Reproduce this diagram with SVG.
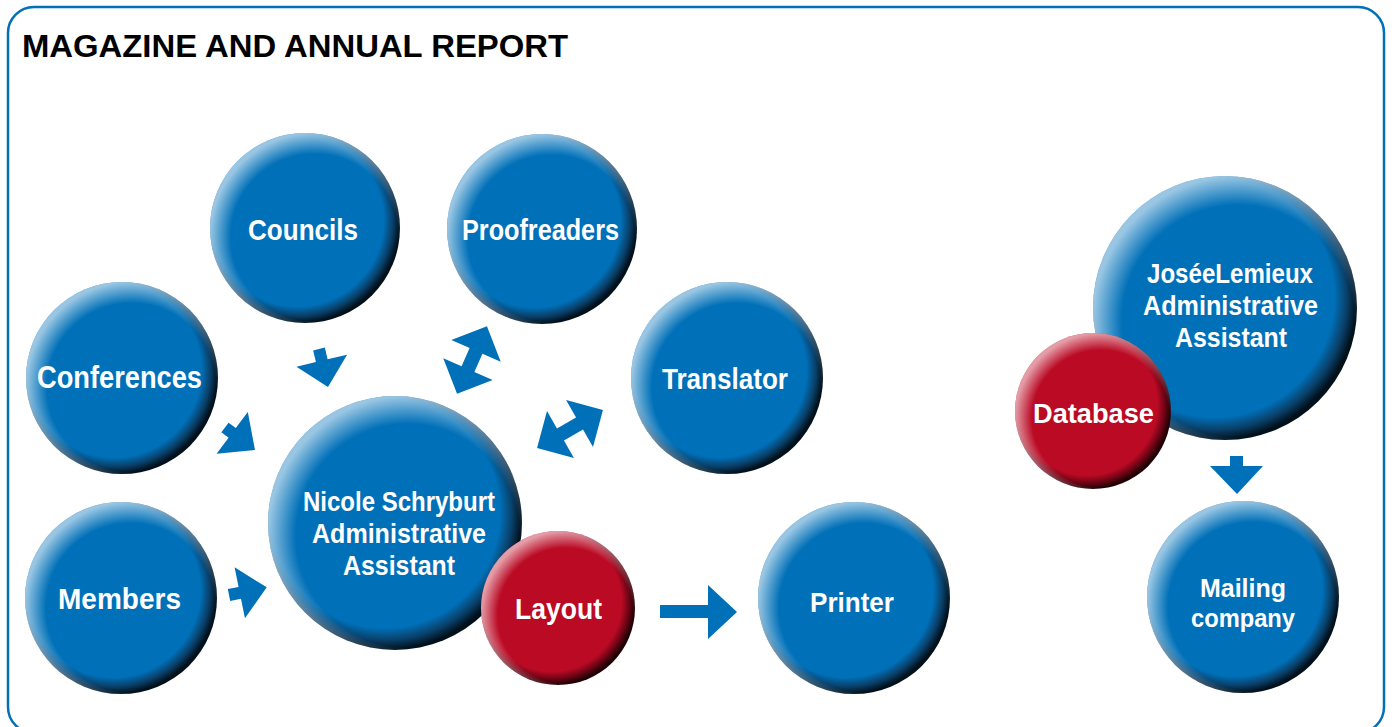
<svg xmlns="http://www.w3.org/2000/svg" width="1394" height="727" viewBox="0 0 1394 727">
<defs>
<radialGradient id="shadeB" cx="0.46" cy="0.46" r="0.54">
<stop offset="0" stop-color="#0070b8"/>
<stop offset="0.84" stop-color="#0070b8"/>
<stop offset="0.93" stop-color="#0a3f68"/>
<stop offset="1" stop-color="#00111c"/>
</radialGradient>
<radialGradient id="shadeR" cx="0.46" cy="0.46" r="0.54">
<stop offset="0" stop-color="#ba0a24"/>
<stop offset="0.84" stop-color="#ba0a24"/>
<stop offset="0.93" stop-color="#6a0414"/>
<stop offset="1" stop-color="#200004"/>
</radialGradient>
<radialGradient id="hl" cx="0.55" cy="0.55" r="0.55">
<stop offset="0.8" stop-color="#ffffff" stop-opacity="0"/>
<stop offset="1" stop-color="#ffffff" stop-opacity="0.6"/>
</radialGradient>
<style>
.blue{fill:url(#shadeB)}
.red{fill:url(#shadeR)}
.hl{fill:url(#hl)}
.arrow{fill:#0070b8}
.lbl{font-family:"Liberation Sans",Arial,sans-serif;font-weight:bold;fill:#ffffff;text-anchor:middle}
.title{font-family:"Liberation Sans",Arial,sans-serif;font-weight:bold;font-size:31px;fill:#000000}
</style>
</defs>
<rect x="8" y="7" width="1376" height="726" rx="26" ry="26" fill="#ffffff" stroke="#0070b8" stroke-width="2.5"/>
<text class="title" x="22" y="57" textLength="546" lengthAdjust="spacingAndGlyphs">MAGAZINE AND ANNUAL REPORT</text>

<g id="connectors">
<polygon class="arrow" transform="translate(319,349) rotate(76.7)" points="0,-6 12,-6 12,-26 39,0 12,26 12,6 0,6"/>
<polygon class="arrow" transform="translate(225,427.5) rotate(36.9)" points="0,-6 9,-6 9,-26 37.5,0 9,26 9,6 0,6"/>
<polygon class="arrow" transform="translate(229,595) rotate(-11.5)" points="0,-6 11,-6 11,-26 38.5,0 11,26 11,6 0,6"/>
<polygon class="arrow" transform="translate(472,360) rotate(-66.2)" points="-37,0 -10,-27 -10,-7 10,-7 10,-27 37,0 10,27 10,7 -10,7 -10,27"/>
<polygon class="arrow" transform="translate(570,429) rotate(-29.9)" points="-38,0 -11,-27 -11,-7 11,-7 11,-27 38,0 11,27 11,7 -11,7 -11,27"/>
<polygon class="arrow" points="660,605 708,605 708,585 737,612 708,639 708,618 660,618"/>
<polygon class="arrow" points="1230,456 1243,456 1243,466 1263,466 1237,494 1210,466 1230,466"/>
</g>

<g id="councils">
<circle class="blue" cx="305" cy="228" r="95"/><circle class="hl" cx="305" cy="228" r="95"/>
<text class="lbl" x="303" y="240" font-size="30" textLength="110" lengthAdjust="spacingAndGlyphs">Councils</text>
</g>
<g id="proofreaders">
<circle class="blue" cx="542" cy="229" r="95"/><circle class="hl" cx="542" cy="229" r="95"/>
<text class="lbl" x="540.5" y="240" font-size="30" textLength="157" lengthAdjust="spacingAndGlyphs">Proofreaders</text>
</g>
<g id="conferences">
<circle class="blue" cx="122" cy="378" r="96"/><circle class="hl" cx="122" cy="378" r="96"/>
<text class="lbl" x="119.5" y="388" font-size="31" textLength="165" lengthAdjust="spacingAndGlyphs">Conferences</text>
</g>
<g id="translator">
<circle class="blue" cx="727" cy="378" r="96"/><circle class="hl" cx="727" cy="378" r="96"/>
<text class="lbl" x="725" y="389" font-size="29" textLength="126" lengthAdjust="spacingAndGlyphs">Translator</text>
</g>
<g id="members">
<circle class="blue" cx="121" cy="598" r="96"/><circle class="hl" cx="121" cy="598" r="96"/>
<text class="lbl" x="119.5" y="609" font-size="30" textLength="123" lengthAdjust="spacingAndGlyphs">Members</text>
</g>
<g id="nicole">
<circle class="blue" cx="395" cy="523" r="127"/><circle class="hl" cx="395" cy="523" r="127"/>
<text class="lbl" font-size="27"><tspan x="399" y="511" textLength="192" lengthAdjust="spacingAndGlyphs">Nicole Schryburt</tspan><tspan x="399" y="543" textLength="174" lengthAdjust="spacingAndGlyphs">Administrative</tspan><tspan x="399" y="575" textLength="112" lengthAdjust="spacingAndGlyphs">Assistant</tspan></text>
</g>
<g id="layout">
<circle class="red" cx="558" cy="608" r="77"/><circle class="hl" cx="558" cy="608" r="77"/>
<text class="lbl" x="558.5" y="619" font-size="29" textLength="87" lengthAdjust="spacingAndGlyphs">Layout</text>
</g>
<g id="printer">
<circle class="blue" cx="854" cy="598" r="96"/><circle class="hl" cx="854" cy="598" r="96"/>
<text class="lbl" x="852" y="612" font-size="28" textLength="84" lengthAdjust="spacingAndGlyphs">Printer</text>
</g>
<g id="josee">
<circle class="blue" cx="1225" cy="308" r="132"/><circle class="hl" cx="1225" cy="308" r="132"/>
<text class="lbl" font-size="28"><tspan x="1230" y="283" textLength="166" lengthAdjust="spacingAndGlyphs">JoséeLemieux</tspan><tspan x="1230.5" y="315" textLength="175" lengthAdjust="spacingAndGlyphs">Administrative</tspan><tspan x="1231" y="347" textLength="112" lengthAdjust="spacingAndGlyphs">Assistant</tspan></text>
</g>
<g id="database">
<circle class="red" cx="1093" cy="411" r="78"/><circle class="hl" cx="1093" cy="411" r="78"/>
<text class="lbl" x="1093.5" y="423" font-size="28" textLength="121" lengthAdjust="spacingAndGlyphs">Database</text>
</g>
<g id="mailing">
<circle class="blue" cx="1243" cy="597" r="96"/><circle class="hl" cx="1243" cy="597" r="96"/>
<text class="lbl" font-size="26"><tspan x="1243" y="597" textLength="86" lengthAdjust="spacingAndGlyphs">Mailing</tspan><tspan x="1243" y="627" textLength="104" lengthAdjust="spacingAndGlyphs">company</tspan></text>
</g>
</svg>
